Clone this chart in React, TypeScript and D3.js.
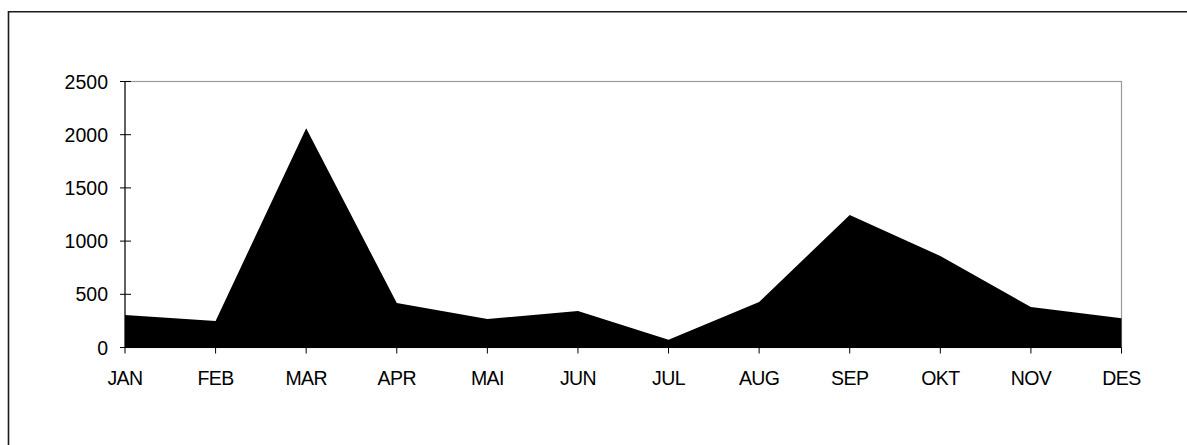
import React from "react";
import * as d3 from "d3";

// monthly values
const months = ["JAN", "FEB", "MAR", "APR", "MAI", "JUN", "JUL", "AUG", "SEP", "OKT", "NOV", "DES"];
const values = [305, 250, 2060, 418, 268, 343, 72, 428, 1245, 860, 380, 275];
const yTicks = [0, 500, 1000, 1500, 2000, 2500];

const width = 1187;
const height = 445;
const margin = { top: 81.5, left: 125, bottom: 347.5, right: 1121.5 };
const font = "'Liberation Sans', Arial, sans-serif";

export default function App() {
  const x = d3.scalePoint<string>().domain(months).range([margin.left, margin.right]);
  const y = d3.scaleLinear().domain([0, 2500]).range([margin.bottom, margin.top]);

  const area = d3
    .area<number>()
    .x((_, i) => x(months[i]) as number)
    .y0(y(0))
    .y1((d) => y(d));

  return (
    <svg
      width={width}
      height={height}
      style={{ position: "absolute", left: 0, top: 0, background: "#fff", display: "block" }}
      fontFamily={font}
    >
      {/* outer chart frame: only top and left edges fall inside the window */}
      <line x1={8.5} x2={width} y1={11.8} y2={11.8} stroke="#1a1a1a" strokeWidth={1.6} />
      <line x1={8.5} x2={8.5} y1={11} y2={height} stroke="#1a1a1a" strokeWidth={1.6} />

      {/* plot area border */}
      <rect
        x={margin.left}
        y={margin.top}
        width={margin.right - margin.left}
        height={margin.bottom - margin.top}
        fill="#fff"
        stroke="#9a9a9a"
        strokeWidth={1.2}
      />

      <path d={area(values) || ""} fill="#000" />

      {/* y axis */}
      <line x1={margin.left} x2={margin.left} y1={margin.top} y2={margin.bottom} stroke="#000" />
      {yTicks.map((t) => (
        <g key={t}>
          <line x1={margin.left - 5} x2={margin.left + 6} y1={y(t)} y2={y(t)} stroke="#000" />
          <text x={108} y={y(t)} dy="0.36em" textAnchor="end" fontSize={19.5} fill="#000">
            {t}
          </text>
        </g>
      ))}

      {/* x axis */}
      <line x1={margin.left} x2={margin.right} y1={margin.bottom} y2={margin.bottom} stroke="#000" />
      {months.map((m) => (
        <g key={m}>
          <line x1={x(m)} x2={x(m)} y1={margin.bottom} y2={margin.bottom + 6} stroke="#000" />
          <text x={x(m)} y={385} textAnchor="middle" fontSize={19.5} letterSpacing={-0.6} fill="#000">
            {m}
          </text>
        </g>
      ))}
    </svg>
  );
}
